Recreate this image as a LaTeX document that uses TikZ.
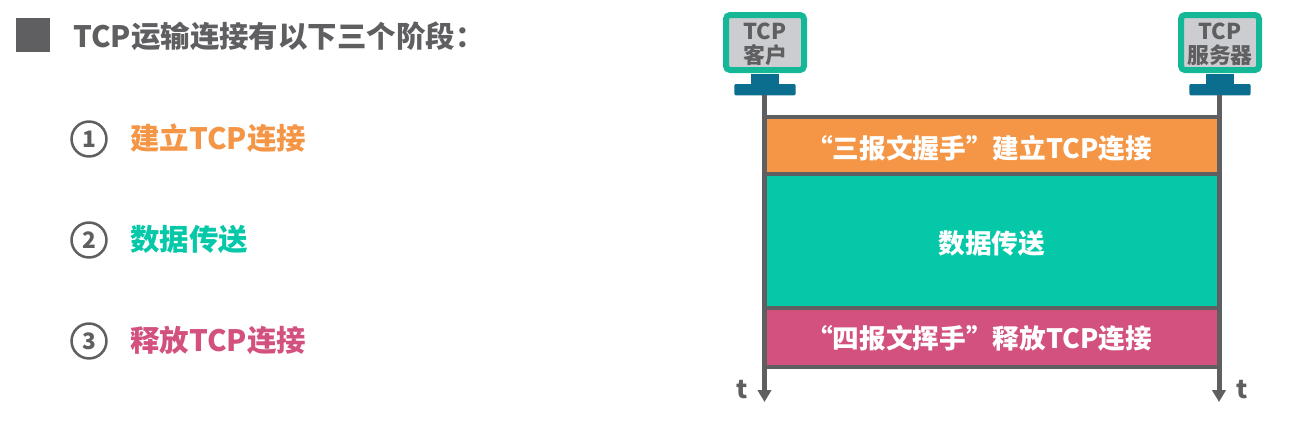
\documentclass[tikz,border=0pt]{standalone}
\usepackage{fontspec}
\setmainfont{Noto Sans CJK SC}
\usetikzlibrary{arrows.meta,positioning}
\definecolor{cText}{HTML}{5F5F62}
\definecolor{cOrange}{HTML}{F49646}
\definecolor{cTeal}{HTML}{05C8A8}
\definecolor{cPink}{HTML}{D2517E}
\definecolor{cFrame}{HTML}{14B896}
\definecolor{cScreen}{HTML}{CCCDD0}
\definecolor{cStand}{HTML}{0B6E8E}
\newcommand{\lowered}[2]{\raisebox{-#1}[\height][\depth]{#2}}
\tikzset{
  phase/.style={draw=cText, line width=3pt, outer sep=0pt, inner sep=0pt,
    minimum width=340.9pt, text=white, font=\fontsize{20}{24}\selectfont\bfseries},
  monitor/.style={draw=cFrame, fill=cScreen, line width=4.5pt, rounded corners=3pt,
    outer sep=0pt, inner sep=0pt, minimum width=58.5pt, minimum height=41.25pt,
    align=center, text=cText, font=\fontsize{16.4}{18.5}\selectfont\bfseries},
  neck/.style={fill=cStand, outer sep=0pt, inner sep=0pt, minimum width=21pt, minimum height=8.5pt},
  foot/.style={fill=cStand, rounded corners=1pt, outer sep=0pt, inner sep=0pt,
    minimum width=46pt, minimum height=8.5pt},
  life/.style={draw=cText, line width=3.75pt, -{Stealth[length=9pt,width=10pt,inset=0pt]}},
  heading/.style={anchor=west, inner sep=0pt, text=cText, font=\fontsize{22.1}{26}\selectfont\bfseries},
  item/.style={anchor=west, inner sep=0pt, font=\fontsize{22.1}{26}\selectfont\bfseries},
  num/.style={circle, draw=cText, line width=1.9pt, inner sep=0pt, minimum size=26.2pt,
    text=cText, font=\fontsize{17}{20}\selectfont\bfseries},
  tlabel/.style={inner sep=0pt, text=cText, font=\fontsize{19}{20}\selectfont\bfseries},
}
\begin{document}
\begin{tikzpicture}[x=0.75pt, y=-0.75pt]
    \useasboundingbox (0,0) rectangle (1300,437);
    % left column
    \node[fill=cText, minimum size=25.5pt, inner sep=0pt] (bullet) at (33,35) {};
    \node[heading] (title) at (73,36) {TCP运输连接有以下三个阶段：};
    \node[num] (n1) at (89,139) {1};
    \node[num] (n2) at (89,240) {2};
    \node[num] (n3) at (89,341) {3};
    \node[item, text=cOrange] (item1) at (130,138) {建立TCP连接};
    \node[item, text=cTeal] (item2) at (130,239) {数据传送};
    \node[item, text=cPink] (item3) at (130,340) {释放TCP连接};
    % the two hosts
    \node[monitor] (client) at (765,42.5) {\lowered{1.8pt}{TCP}\\\lowered{0.8pt}{客户}};
    \node[monitor] (server) at (1220,42.5) {\lowered{1.8pt}{TCP}\\\lowered{0.8pt}{服务器}};
    \node[neck, below=3pt of client] (cneck) {};
    \node[foot, below=-1pt of cneck] (cfoot) {};
    \node[neck, below=3pt of server] (sneck) {};
    \node[foot, below=-1pt of sneck] (sfoot) {};
    \coordinate (cend) at (764.5,402);
    \coordinate (send) at (1219,402);
    % phases
    \node[phase, fill=cOrange, minimum height=42.75pt, anchor=north west] (open) at (764.5,117) {\hspace*{-19pt}\lowered{2pt}{“三报文握手”建立TCP连接}};
    \node[phase, fill=cTeal, minimum height=100.5pt, below=0pt of open] (data) {\lowered{1.6pt}{数据传送}};
    \node[phase, fill=cPink, minimum height=44.25pt, below=0pt of data] (close) {\hspace*{-19pt}\lowered{0.8pt}{“四报文挥手”释放TCP连接}};
    % time lines
    \draw[life] (cfoot.south -| cend) -- (cend);
    \draw[life] (sfoot.south -| send) -- (send);
    \node[tlabel] (tc) at (742,390) {t};
    \node[tlabel] (ts) at (1242,390) {t};
\end{tikzpicture}
\end{document}
